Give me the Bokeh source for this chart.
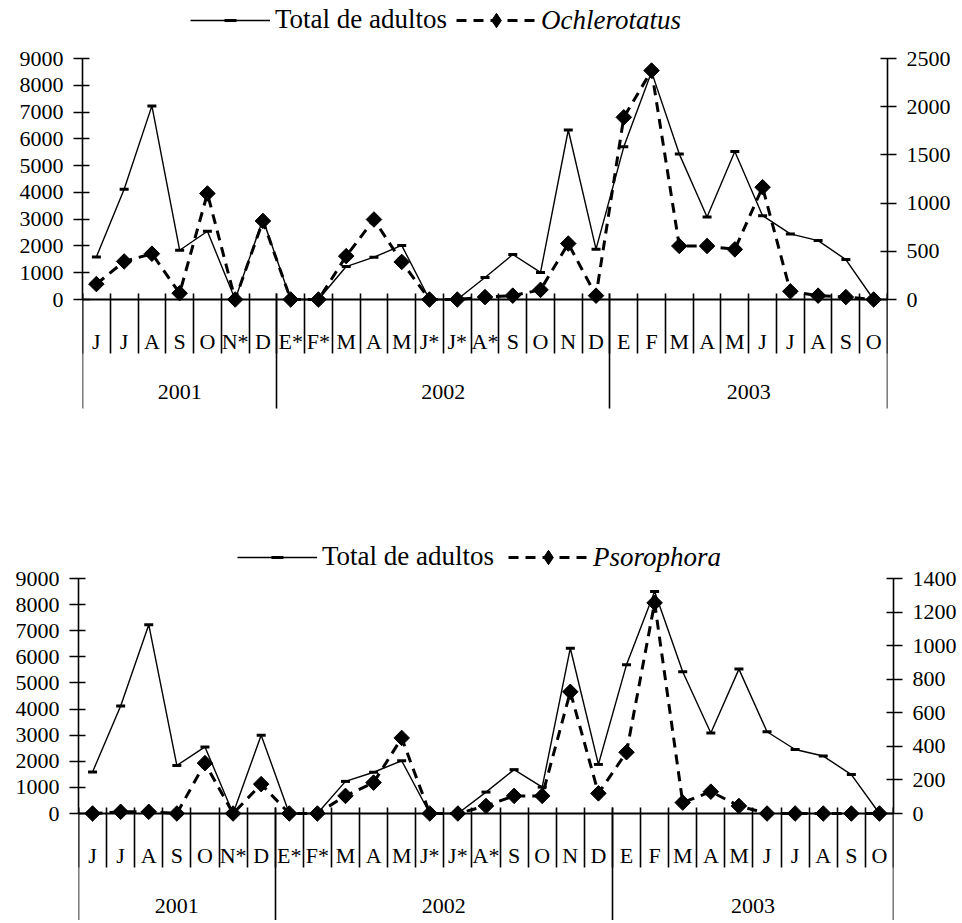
import numpy as np
from bokeh.plotting import figure
from bokeh.models import Range1d, LinearAxis, FixedTicker, Legend, LegendItem, ColumnDataSource
from bokeh.embed import file_html
from bokeh.resources import INLINE

# ---------------- data ----------------
months = ["J", "J", "A", "S", "O", "N*", "D",
          "E*", "F*", "M", "A", "M", "J*", "J*", "A*", "S", "O", "N", "D",
          "E", "F", "M", "A", "M", "J", "J", "A", "S", "O"]
years = ["2001", "2002", "2003"]
year_lengths = [7, 12, 10]

total_adultos = [1590, 4120, 7230, 1840, 2550, 0, 3000,
                 0, 0, 1230, 1580, 2020, 0, 0, 820, 1680, 1010, 6330, 1880,
                 5700, 8500, 5430, 3080, 5530, 3130, 2450, 2200, 1490, 0]
ochlerotatus = [160, 395, 475, 65, 1100, 0, 815,
                0, 0, 450, 830, 390, 0, 0, 25, 40, 100, 580, 40,
                1890, 2375, 555, 555, 520, 1165, 85, 40, 25, 0]
psorophora = [0, 10, 10, 0, 300, 0, 175,
              0, 0, 105, 184, 450, 0, 0, 45, 105, 105, 725, 120,
              365, 1255, 65, 130, 45, 0, 0, 0, 0, 0]

left_ticks = [0, 1000, 2000, 3000, 4000, 5000, 6000, 7000, 8000, 9000]
right_ticks_top = [0, 500, 1000, 1500, 2000, 2500]
right_ticks_bottom = [0, 200, 400, 600, 800, 1000, 1200, 1400]

FONT = "Liberation Serif"
TICK_FS = "22px"
LEG_FS = "27px"


def num_key(v):
    v = float(v)
    return int(v) if v == int(v) else v


def make_panel(species, name, rticks, g):
    n = len(months)
    xs = [i + 0.5 for i in range(n)]
    lmax = left_ticks[-1]
    rmax = rticks[-1]
    # frame spans the whole figure height; axis 0..max occupies 'span' px
    span = g["zero"] - g["top"]
    above = g["top"]             # px from frame top to the max tick
    below = g["fh"] - g["zero"]  # px from zero to frame bottom
    lu = lmax / span
    ru = rmax / span

    p = figure(frame_width=g["fw"], frame_height=g["fh"],
               min_border_left=g["bl"], min_border_right=g["br"],
               min_border_top=0, min_border_bottom=g["bb"],
               x_range=Range1d(0, n),
               y_range=Range1d(-below * lu, lmax + above * lu),
               x_axis_location=None, y_axis_location=None,
               output_backend="svg", toolbar_location=None)
    p.extra_y_ranges = {"right": Range1d(-below * ru, rmax + above * ru)}
    p.outline_line_color = None
    p.background_fill_color = "white"
    p.border_fill_color = "white"
    p.grid.grid_line_color = None

    src = ColumnDataSource(dict(x=xs, total=total_adultos, sp=species))
    r1 = p.line("x", "total", source=src, line_color="black", line_width=1.4)
    r2 = p.scatter("x", "total", source=src, marker="dash", size=9,
                   line_width=3, line_color="black")
    r3 = p.line("x", "sp", source=src, y_range_name="right", line_color="black",
                line_width=3, line_dash="10 7")
    p.scatter("x", "sp", source=src, y_range_name="right", marker="square",
              angle=np.pi / 4, size=11, fill_color="black", line_color="black")
    # legend-only key glyph (a single undefined point, never drawn in the plot)
    key = ColumnDataSource(dict(x=[np.nan], y=[np.nan]))
    r4 = p.scatter("x", "y", source=key, marker="diamond", size=14,
                   fill_color="black", line_color="black")

    def style_y(ax):
        ax.axis_line_width = 1.6
        ax.major_tick_line_width = 1.6
        ax.major_tick_in = 7
        ax.major_tick_out = 9
        ax.minor_tick_line_color = None
        ax.major_label_text_font = FONT
        ax.major_label_text_font_size = TICK_FS
        ax.major_label_text_color = "black"
        ax.major_label_standoff = 10

    ly = LinearAxis(ticker=FixedTicker(ticks=left_ticks), bounds=(0, lmax))
    style_y(ly)
    p.add_layout(ly, "left")
    ry = LinearAxis(y_range_name="right", ticker=FixedTicker(ticks=rticks), bounds=(0, rmax))
    style_y(ry)
    p.add_layout(ry, "right")

    # category separators (months and years)
    cum = [0]
    for L in year_lengths:
        cum.append(cum[-1] + L)
    xa = LinearAxis(fixed_location=0,
                    ticker=FixedTicker(ticks=cum, minor_ticks=list(range(n + 1))))
    xa.axis_line_width = 2
    xa.major_tick_line_width = 1.6
    xa.minor_tick_line_width = 1.6
    xa.minor_tick_line_color = "black"
    xa.major_tick_in = 6
    xa.major_tick_out = 109
    xa.minor_tick_in = 6
    xa.minor_tick_out = 54
    xa.major_label_text_alpha = 0
    xa.major_label_text_font_size = "1px"
    p.add_layout(xa, "below")

    # month labels
    xm = LinearAxis(fixed_location=0, ticker=FixedTicker(ticks=xs),
                    major_label_overrides={num_key(x): m for x, m in zip(xs, months)})
    xm.axis_line_color = None
    xm.major_tick_line_color = None
    xm.minor_tick_line_color = None
    xm.major_tick_out = 0
    xm.major_tick_in = 0
    xm.minor_tick_out = 0
    xm.major_label_standoff = 29
    xm.major_label_text_font = FONT
    xm.major_label_text_font_size = TICK_FS
    xm.major_label_text_color = "black"
    p.add_layout(xm, "below")

    # year labels
    centers = [num_key(cum[i] + year_lengths[i] / 2) for i in range(len(years))]
    xy = LinearAxis(fixed_location=0, ticker=FixedTicker(ticks=centers),
                    major_label_overrides={c: y for c, y in zip(centers, years)})
    xy.axis_line_color = None
    xy.major_tick_line_color = None
    xy.minor_tick_line_color = None
    xy.major_tick_out = 0
    xy.major_tick_in = 0
    xy.minor_tick_out = 0
    xy.major_label_standoff = 85
    xy.major_label_text_font = FONT
    xy.major_label_text_font_size = TICK_FS
    xy.major_label_text_color = "black"
    p.add_layout(xy, "below")

    common = dict(orientation="horizontal", glyph_width=80,
                  label_standoff=5, padding=0, margin=0, border_line_color=None,
                  background_fill_alpha=0, label_text_font=FONT,
                  label_text_font_size=LEG_FS, label_text_color="black")
    leg1 = Legend(items=[LegendItem(label="Total de adultos", renderers=[r1, r2])],
                  location=(g["lx1"], g["ly"]), glyph_height=30, **common)
    leg2 = Legend(items=[LegendItem(label=name, renderers=[r3, r4])],
                  location=(g["lx2"], g["ly"] - 3), glyph_height=36,
                  label_text_font_style="italic", **common)
    p.add_layout(leg1, "center")
    p.add_layout(leg2, "center")
    return p


# top figure: canvas y 0..530, frame = y 0..416 ; max tick at y 58, zero at y 299
top_geom = dict(bl=82, fw=805, br=70, fh=416, bb=114, top=58, zero=299,
                lx1=108, lx2=374, ly=381)
# bottom figure: canvas y 530..920 ; max tick at 578 (48), zero at 813 (283)
bot_geom = dict(bl=78, fw=815, br=64, fh=390, bb=0, top=48, zero=283,
                lx1=159, lx2=430, ly=348)

p1 = make_panel(ochlerotatus, "Ochlerotatus", right_ticks_top, top_geom)
p2 = make_panel(psorophora, "Psorophora", right_ticks_bottom, bot_geom)

open("out.html", "w").write(file_html([p1, p2], INLINE))
